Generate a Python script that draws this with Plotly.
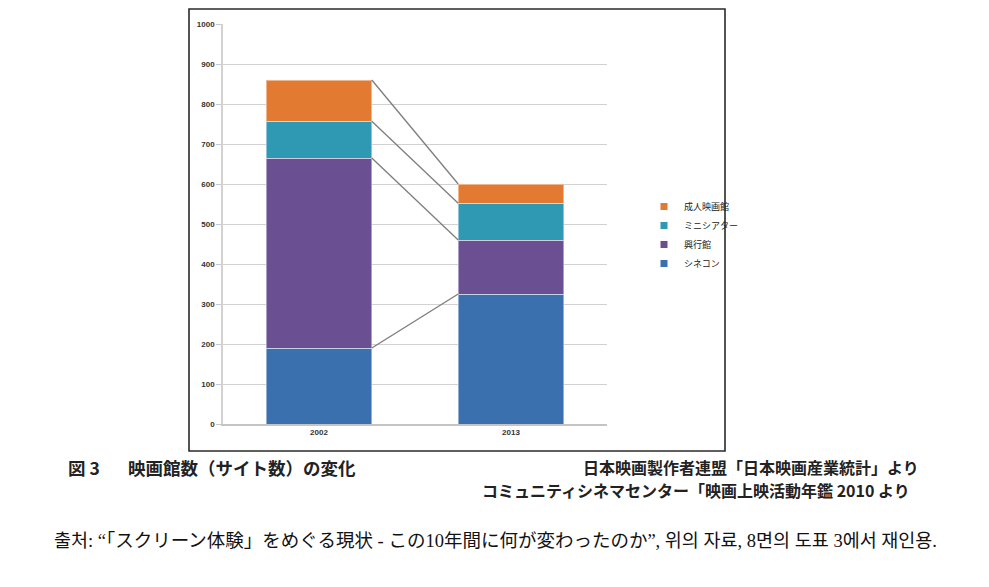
import plotly.graph_objects as go
import numpy as np

# ---- data ----
years = ["2002", "2013"]
series_names = ["シネコン", "興行館", "ミニシアター", "成人映画館"]
cinecon = [190, 325]
kogyokan = [475, 135]
minitheater = [92, 92]
adult = [103, 48]
y_ticks = [0, 100, 200, 300, 400, 500, 600, 700, 800, 900, 1000]

series_values = [cinecon, kogyokan, minitheater, adult]
colors = ["#3A70AE", "#6A5092", "#2F98B2", "#E27A32"]

# ---- layout geometry (px) ----
W, H = 989, 587
L, R, T, B = 223, 607, 24, 424
PW, PH = R - L, B - T


def px(x):
    return (x - L) / PW


def py(y):
    return (B - y) / PH


bar_w = 0.55
xpos = list(range(len(years)))

fig = go.Figure()

for name, vals, col in zip(series_names, series_values, colors):
    fig.add_trace(go.Bar(
        x=xpos, y=vals, width=bar_w, name=name,
        marker=dict(color=col, line=dict(color="rgba(255,255,255,0.45)", width=1)),
        showlegend=False,
    ))

# connector lines between stacked tops
cum = np.cumsum(np.array(series_values), axis=0)
for i in range(len(series_names)):
    fig.add_trace(go.Scatter(
        x=[xpos[0] + bar_w / 2, xpos[1] - bar_w / 2],
        y=[cum[i][0], cum[i][1]],
        mode="lines", line=dict(color="#7d7d7d", width=1.3),
        showlegend=False, hoverinfo="skip",
    ))

# legend entries (small squares)
for name, col in zip(series_names, colors):
    fig.add_trace(go.Scatter(
        x=[None], y=[None], mode="markers", name=name,
        marker=dict(symbol="square", size=7, color=col),
        showlegend=True,
    ))

fig.update_layout(
    width=W, height=H,
    margin=dict(l=L, r=W - R, t=T, b=H - B),
    barmode="stack",
    plot_bgcolor="white", paper_bgcolor="white",
    font=dict(family="Noto Sans CJK JP, Arial", color="#222"),
    legend=dict(
        x=px(644), y=py(192), xanchor="left", yanchor="top",
        traceorder="reversed", font=dict(size=9, color="#222"),
        itemwidth=30, tracegroupgap=0, bgcolor="rgba(0,0,0,0)",
    ),
    xaxis=dict(
        range=[-0.5, 1.5], tickvals=xpos, ticktext=years,
        showgrid=False, showline=True, linecolor="#c4c4c4", linewidth=1.5,
        ticks="", tickfont=dict(size=8, family="Arial", color="#333", weight="bold"),
        zeroline=False, fixedrange=True,
    ),
    yaxis=dict(
        range=[0, 1000], tickvals=y_ticks, ticktext=[str(v) for v in y_ticks],
        showgrid=True, gridcolor="#d2d2d2", gridwidth=1,
        showline=True, linecolor="#d2d2d2", linewidth=1.5,
        ticks="outside", ticklen=5, tickcolor="#c8c8c8",
        tickfont=dict(size=8, family="Arial", color="#333", weight="bold"),
        zeroline=False, fixedrange=True,
    ),
)

# frame around chart
fig.add_shape(type="rect", xref="paper", yref="paper",
              x0=px(189), x1=px(725), y0=py(451), y1=py(9),
              line=dict(color="#2a2a2a", width=1.6), fillcolor="rgba(0,0,0,0)",
              layer="below")

cap_font = dict(family="Noto Sans CJK JP", size=17.5, color="#222")
fig.add_annotation(text="<b>図 3</b>", xref="paper", yref="paper",
                   x=px(66), y=py(467), xanchor="left", yanchor="middle",
                   showarrow=False, font=cap_font)
fig.add_annotation(text="<b>映画館数（サイト数）の変化</b>", xref="paper", yref="paper",
                   x=px(126), y=py(467), xanchor="left", yanchor="middle",
                   showarrow=False, font=cap_font)
fig.add_annotation(text="<b>日本映画製作者連盟「日本映画産業統計」より</b>", xref="paper", yref="paper",
                   x=px(921), y=py(467), xanchor="right", yanchor="middle",
                   showarrow=False, font=dict(family="Noto Sans CJK JP", size=16, color="#222"))
fig.add_annotation(text="<b>コミュニティシネマセンター「映画上映活動年鑑 2010 より</b>", xref="paper", yref="paper",
                   x=px(912), y=py(490), xanchor="right", yanchor="middle",
                   showarrow=False, font=dict(family="Noto Sans CJK JP", size=16, color="#222"))
fig.add_annotation(
    text="출처: “「スクリーン体験」をめぐる現状 - この10年間に何が変わったのか”, 위의 자료, 8면의 도표 3에서 재인용.",
    xref="paper", yref="paper", x=px(52), y=py(541), xanchor="left", yanchor="middle",
    showarrow=False,
    font=dict(family="Liberation Serif, Noto Sans CJK KR, serif", size=18.5, color="#111"))

fig.write_html("out.html")
